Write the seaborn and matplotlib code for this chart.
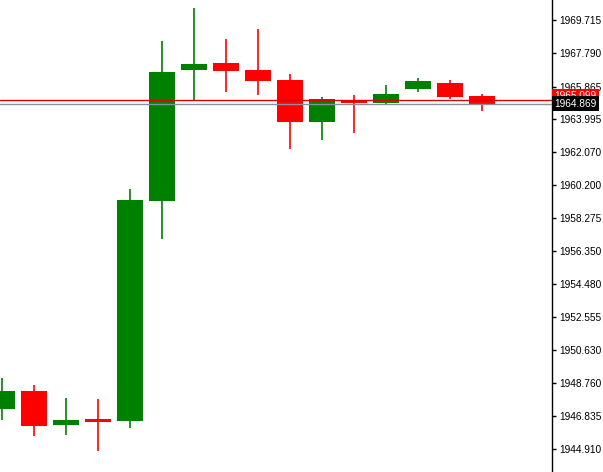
import matplotlib
matplotlib.use("Agg")
import matplotlib.pyplot as plt
import matplotlib.transforms as mtransforms
import seaborn as sns
import numpy as np

sns.set_style("white")
plt.rcParams['font.family'] = ['Liberation Sans', 'DejaVu Sans']

# OHLC (one candle per bar)
opens = [1947.24, 1948.28, 1946.31, 1946.66, 1946.55, 1959.26, 1966.83, 1967.23,
         1966.83, 1966.25, 1963.82, 1965.09, 1964.92, 1965.73, 1966.08, 1965.32]
highs = [1949.03, 1948.63, 1947.87, 1947.82, 1959.95, 1968.50, 1970.41, 1968.62,
         1969.20, 1966.60, 1965.27, 1965.38, 1965.96, 1966.36, 1966.25, 1965.44]
lows = [1946.60, 1945.68, 1945.74, 1944.81, 1946.14, 1957.06, 1965.09, 1965.56,
        1965.38, 1962.26, 1962.78, 1963.19, 1964.86, 1965.56, 1965.15, 1964.46]
closes = [1948.28, 1946.26, 1946.60, 1946.49, 1959.31, 1966.71, 1967.17, 1966.77,
          1966.19, 1963.82, 1965.15, 1964.92, 1965.44, 1966.19, 1965.27, 1964.87]

price_ticks = [1969.715, 1967.790, 1965.865, 1963.995, 1962.070, 1960.200, 1958.275,
               1956.350, 1954.480, 1952.555, 1950.630, 1948.760, 1946.835, 1944.910]
bid = 1964.869
ask = 1965.099

up_color = '#008000'
down_color = '#ff0000'

fig = plt.figure(figsize=(6.03, 4.72), dpi=100)
ax = fig.add_axes([0, 0, 552 / 603, 1])

x = np.arange(len(opens))
o = np.array(opens)
c = np.array(closes)
colors = [up_color if cc >= oo else down_color for oo, cc in zip(o, c)]

# wicks then bodies
ax.vlines(x, lows, highs, colors=colors, linewidth=1.2, zorder=2)
body_h = np.abs(c - o)
body_h = np.maximum(body_h, 0.12)
ax.bar(x, body_h, bottom=np.minimum(o, c), width=0.79, color=colors,
       linewidth=0, zorder=3)

# ask / bid lines
ax.axhline(ask, color='#e00000', linewidth=1.0, zorder=4, clip_on=False)
ax.axhline(bid, color='#8a8f99', linewidth=1.0, zorder=4, clip_on=False)

ax.set_xlim(-0.0625, 17.1875)
ax.set_ylim(1943.60, 1970.87)

# price scale on the right
ax.yaxis.tick_right()
ax.set_yticks(price_ticks)
ax.set_yticklabels([f"{t:.3f}" for t in price_ticks])
ax.tick_params(axis='y', direction='out', length=3, width=1, pad=2,
               labelsize=7.3, colors='black', right=True, left=False)
ax.set_xticks([])
for side in ['left', 'top', 'bottom']:
    ax.spines[side].set_visible(False)
ax.spines['right'].set_color('black')
ax.spines['right'].set_linewidth(1.0)

trans = mtransforms.blended_transform_factory(ax.transAxes, ax.transData)
ax.text(1.004, ask + 0.22, f"{ask:.3f}", transform=trans, ha='left', va='center',
        fontsize=7.3, color='white', zorder=6,
        bbox=dict(boxstyle='square,pad=0.25', facecolor='#ff0000', edgecolor='none'))
ax.text(1.004, bid, f"{bid:.3f}", transform=trans, ha='left', va='center',
        fontsize=7.3, color='white', zorder=7,
        bbox=dict(boxstyle='square,pad=0.25', facecolor='black', edgecolor='none'))

fig.savefig('out.png', dpi=100)
